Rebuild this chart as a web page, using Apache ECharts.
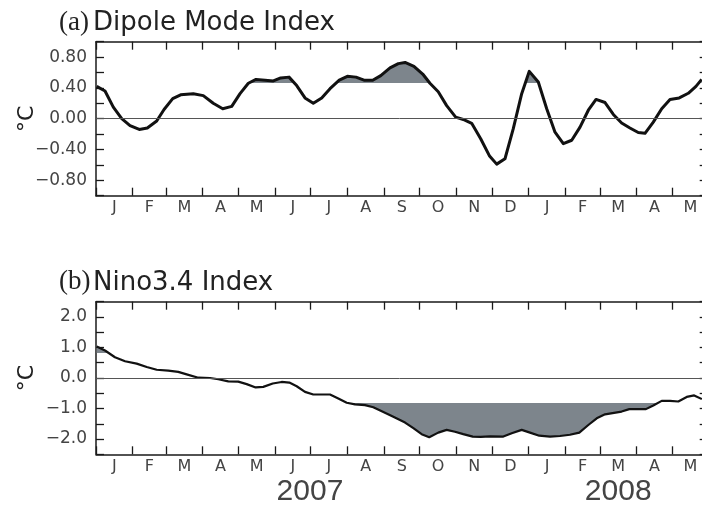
<!DOCTYPE html>
<html>
<head>
<meta charset="utf-8">
<title>Dipole Mode Index / Nino3.4 Index</title>
<script src="https://cdn.jsdelivr.net/npm/echarts@6/dist/echarts.min.js"></script>
<style>
  html, body { margin: 0; padding: 0; background: #fff; }
  #chart { width: 702px; height: 507px; }
</style>
</head>
<body>
<div id="chart"></div>
<script>
// x values are days counted from 1 Jan 2007
var monthStart = [0, 31, 59, 90, 120, 151, 181, 212, 243, 273, 304, 334, 365, 396, 425, 456, 486];
var monthMid = [15.5, 45, 74.5, 105, 135.5, 166, 196.5, 227.5, 258, 288.5, 319, 349.5, 380.5, 410.5, 440.5, 471, 501.5];
var monthLabels = ['J', 'F', 'M', 'A', 'M', 'J', 'J', 'A', 'S', 'O', 'N', 'D', 'J', 'F', 'M', 'A', 'M'];
var yearMid = [180.5, 440.5];
var yearLabels = ['2007', '2008'];

var dmiDay = [0.6, 7.6, 14.6, 21.7, 28.7, 36.5, 43.3, 51.2, 57.4, 64.7, 71.4, 82.1, 90.5, 98.9, 106.9, 114.5,
  121.5, 128.5, 135, 142.6, 149.6, 155.8, 162.8, 169.3, 176.3, 183.3, 190.4, 197.4, 205.2, 212, 219.3, 226.1,
  233.4, 240.2, 248, 255, 260.7, 268.2, 275.6, 281.7, 288.7, 295.8, 303.4, 309.8, 316.9, 324.5, 331.8, 338,
  345, 352, 359.1, 365.5, 373.1, 380.2, 387.2, 394.2, 401.3, 408.3, 415.3, 421.8, 429.4, 436.4, 443.4, 450.4,
  457.4, 463.1, 470.1, 477.2, 484.2, 492, 499.6, 506.1, 510.9];
var dmiValue = [0.42, 0.36, 0.15, 0.00, -0.09, -0.14, -0.12, -0.03, 0.12, 0.26, 0.31, 0.325, 0.30, 0.20, 0.13, 0.16,
  0.325, 0.46, 0.51, 0.50, 0.49, 0.53, 0.54, 0.43, 0.27, 0.20, 0.27, 0.39, 0.50, 0.55, 0.54, 0.50,
  0.50, 0.56, 0.66, 0.715, 0.73, 0.68, 0.58, 0.46, 0.35, 0.17, 0.02, -0.01, -0.06, -0.26, -0.48, -0.59,
  -0.52, -0.13, 0.325, 0.615, 0.476, 0.13, -0.175, -0.325, -0.28, -0.11, 0.11, 0.25, 0.21, 0.055, -0.055, -0.12,
  -0.18, -0.19, -0.045, 0.13, 0.25, 0.27, 0.33, 0.42, 0.51];

var ninoDay = [0.6, 7.6, 16, 24.5, 34.3, 42.8, 51.2, 61, 69.4, 76.5, 86.3, 96.2, 103.2, 111.6, 120, 127.1,
  134.7, 141.1, 149.1, 156.6, 163.1, 169.3, 176.3, 183.3, 197.4, 204.4, 211.5, 218.5, 226.9, 233.9, 242.4, 250.8,
  260.7, 267.7, 274.7, 281.1, 288.7, 295.8, 302.8, 309.8, 317.8, 324.5, 332.4, 343.6, 350.7, 359.1, 366.1, 373.9,
  383, 391.4, 399.8, 407.7, 415.3, 422.4, 429.4, 437, 443.4, 449.9, 457.4, 463.9, 470.1, 477.2, 484.2, 491.2,
  498.3, 504.6, 511.1];
var ninoValue = [1.03, 0.90, 0.68, 0.55, 0.47, 0.36, 0.27, 0.24, 0.20, 0.12, 0.01, 0.00, -0.04, -0.11, -0.12, -0.20,
  -0.31, -0.29, -0.18, -0.13, -0.15, -0.27, -0.455, -0.54, -0.54, -0.67, -0.81, -0.865, -0.89, -0.96, -1.115, -1.27,
  -1.46, -1.645, -1.84, -1.94, -1.79, -1.70, -1.76, -1.84, -1.92, -1.93, -1.91, -1.92, -1.81, -1.70, -1.79, -1.89,
  -1.92, -1.90, -1.86, -1.79, -1.54, -1.32, -1.19, -1.14, -1.10, -1.02, -1.02, -1.02, -0.90, -0.75, -0.75, -0.77,
  -0.62, -0.57, -0.69];

var dmiThreshold = 0.45;
var ninoThreshold = 0.8;

var fillColor = '#7d858c';
var clear = 'rgba(0,0,0,0)';
var axisColor = '#1a1a1a';
var labelColor = '#444';
var sans = 'DejaVu Sans';
var serif = 'Liberation Serif';

function pairs(xs, ys) {
  return xs.map(function (x, i) { return [x, ys[i]]; });
}

function pickLabel(values, labels) {
  return function (v) {
    for (var i = 0; i < values.length; i++) {
      if (Math.abs(values[i] - v) < 0.01) return labels[i];
    }
    return '';
  };
}

// label every second tick, skip the frame ends
function tickLabel(step, digits) {
  return function (v) {
    var k = Math.round(v / step);
    if (k % 2 !== 0 || Math.abs(k) === 5) return '';
    return (k < 0 ? '\u2212' : '') + Math.abs(k * step).toFixed(digits);
  };
}

var lineAxis = { show: true, onZero: false, lineStyle: { color: axisColor, width: 1.5 } };
var tickStyle = { color: axisColor, width: 1.3 };

function monthAxis(gridIndex, position, margin) {
  return {
    gridIndex: gridIndex,
    type: 'value',
    position: position,
    min: 0,
    max: 516,
    axisLine: lineAxis,
    axisTick: { show: true, inside: true, length: 8, customValues: monthStart, lineStyle: tickStyle },
    axisLabel: position === 'bottom' ? {
      customValues: monthMid,
      formatter: pickLabel(monthMid, monthLabels),
      margin: margin,
      fontSize: 16,
      fontFamily: sans,
      color: labelColor
    } : { show: false },
    splitLine: { show: false }
  };
}

function valueAxis(gridIndex, position, min, max, step, digits) {
  var axis = {
    gridIndex: gridIndex,
    type: 'value',
    position: position,
    min: min,
    max: max,
    interval: step,
    axisLine: lineAxis,
    axisTick: { show: true, inside: true, length: 8, lineStyle: tickStyle },
    axisLabel: { show: false },
    splitLine: { show: false }
  };
  if (position === 'left') {
    axis.name = '\u00b0C';
    axis.nameLocation = 'middle';
    axis.nameGap = 58;
    axis.nameRotate = 90;
    axis.nameMoveOverlap = false;
    axis.nameTextStyle = { fontSize: 22, fontFamily: sans, color: '#222' };
    axis.axisLabel = { formatter: tickLabel(step, digits), margin: 9, fontSize: 17, fontFamily: sans, color: labelColor };
  }
  return axis;
}

var zeroLine = {
  silent: true,
  symbol: ['none', 'none'],
  label: { show: false },
  lineStyle: { color: '#555', width: 1, type: 'solid' },
  data: [{ yAxis: 0 }]
};

function areaSeries(xIndex, data, origin) {
  return {
    type: 'line',
    xAxisIndex: xIndex,
    yAxisIndex: xIndex,
    data: data,
    showSymbol: false,
    silent: true,
    lineStyle: { width: 0 },
    areaStyle: { origin: origin, opacity: 1 }
  };
}

var myChart = echarts.init(document.getElementById('chart'));
var option = {
  animation: false,
  backgroundColor: '#fff',
  grid: [
    { left: 96, top: 41.7, width: 611.7, height: 154, outerBoundsMode: 'none' },
    { left: 96, top: 301.7, width: 611.7, height: 152.6, outerBoundsMode: 'none' }
  ],
  xAxis: [
    monthAxis(0, 'bottom', 4),
    monthAxis(0, 'top'),
    monthAxis(1, 'bottom', 5),
    monthAxis(1, 'top'),
    {
      gridIndex: 1,
      type: 'value',
      position: 'bottom',
      min: 0,
      max: 516,
      axisLine: { show: false, onZero: false },
      axisTick: { show: false },
      axisLabel: {
        customValues: yearMid,
        formatter: pickLabel(yearMid, yearLabels),
        margin: 22,
        fontSize: 30,
        fontFamily: 'Liberation Sans',
        color: labelColor
      },
      splitLine: { show: false }
    }
  ],
  yAxis: [
    valueAxis(0, 'left', -1, 1, 0.2, 2),
    valueAxis(0, 'right', -1, 1, 0.2, 2),
    valueAxis(1, 'left', -2.5, 2.5, 0.5, 1),
    valueAxis(1, 'right', -2.5, 2.5, 0.5, 1)
  ],
  // shading only where the index passes its threshold; the cut sits a hair
  // past the threshold so the polygon's base edge does not bleed a grey line
  visualMap: [
    { show: false, type: 'piecewise', seriesIndex: 0, dimension: 1,
      pieces: [{ gt: dmiThreshold + 0.008, lte: 5, color: fillColor }, { gt: -5, lte: dmiThreshold + 0.008, color: clear }] },
    { show: false, type: 'piecewise', seriesIndex: 2, dimension: 1,
      pieces: [{ gt: ninoThreshold + 0.02, lte: 5, color: fillColor }, { gt: -5, lte: ninoThreshold + 0.02, color: clear }] },
    { show: false, type: 'piecewise', seriesIndex: 3, dimension: 1,
      pieces: [{ gte: -5, lt: -ninoThreshold - 0.02, color: fillColor }, { gte: -ninoThreshold - 0.02, lt: 5, color: clear }] }
  ],
  series: [
    areaSeries(0, pairs(dmiDay, dmiValue), dmiThreshold),
    {
      name: 'Dipole Mode Index',
      type: 'line',
      xAxisIndex: 0,
      yAxisIndex: 0,
      data: pairs(dmiDay, dmiValue),
      showSymbol: false,
      lineStyle: { color: '#111', width: 3, join: 'round' },
      markLine: zeroLine
    },
    areaSeries(2, pairs(ninoDay, ninoValue), ninoThreshold),
    areaSeries(2, pairs(ninoDay, ninoValue), -ninoThreshold),
    {
      name: 'Nino3.4 Index',
      type: 'line',
      xAxisIndex: 2,
      yAxisIndex: 2,
      data: pairs(ninoDay, ninoValue),
      showSymbol: false,
      lineStyle: { color: '#111', width: 2.2, join: 'round' },
      markLine: zeroLine
    }
  ],
  graphic: [
    { type: 'text', x: 59, y: 23, style: { text: '(a)', font: '27px "' + serif + '"', fill: '#222', verticalAlign: 'middle' } },
    { type: 'text', x: 93, y: 23, style: { text: 'Dipole Mode Index', font: '26px "' + sans + '"', fill: '#222', verticalAlign: 'middle' } },
    { type: 'text', x: 59, y: 282, style: { text: '(b)', font: '27px "' + serif + '"', fill: '#222', verticalAlign: 'middle' } },
    { type: 'text', x: 93, y: 283, style: { text: 'Nino3.4 Index', font: '26px "' + sans + '"', fill: '#222', verticalAlign: 'middle' } }
  ]
};
myChart.setOption(option);
</script>
</body>
</html>
